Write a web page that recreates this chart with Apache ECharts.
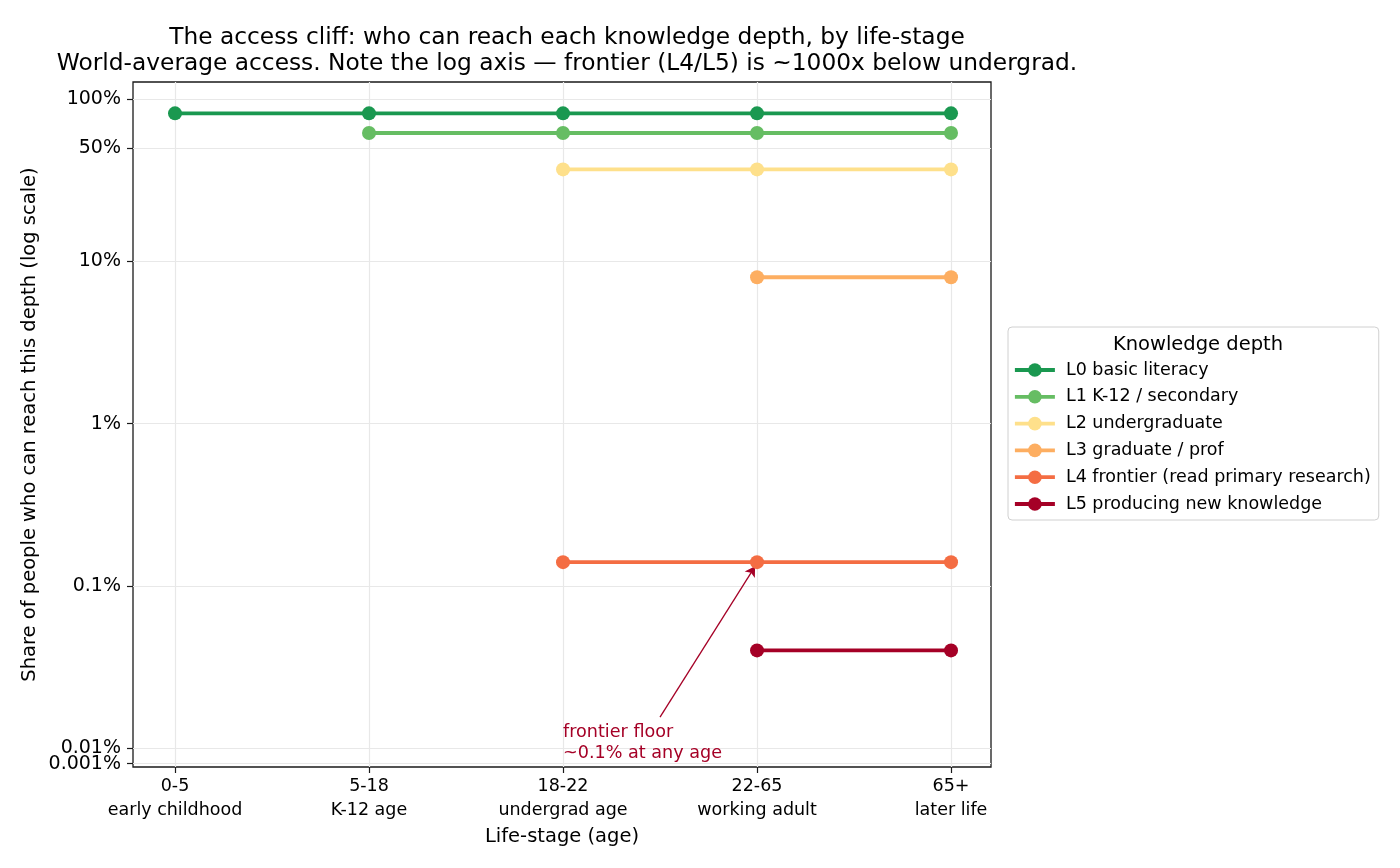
<!DOCTYPE html>
<html>
	<head>
		<meta charset="utf-8">
		<title></title>
		<style>
			body{ margin:0; background:#fff; }
			#main{
				width: 1400px;
				height: 868px;
			}
		</style>
	</head>
	<body>
		<div id="main"></div>
		<script src="https://cdn.jsdelivr.net/npm/echarts@6/dist/echarts.min.js"></script>
		<script>
			// life-stages on the x axis
			var stages = ['0-5', '5-18', '18-22', '22-65', '65+'];
			var stageNames = ['early childhood', 'K-12 age', 'undergrad age', 'working adult', 'later life'];

			// share (%) of people who can reach each depth, per stage (null = not reached yet)
			var depths = ['L0 basic literacy', 'L1 K-12 / secondary', 'L2 undergraduate', 'L3 graduate / prof',
				'L4 frontier (read primary research)', 'L5 producing new knowledge'];
			var L0 = [82, 82, 82, 82, 82];
			var L1 = [null, 62, 62, 62, 62];
			var L2 = [null, null, 37, 37, 37];
			var L3 = [null, null, null, 8, 8];
			var L4 = [null, null, 0.14, 0.14, 0.14];
			var L5 = [null, null, null, 0.04, 0.04];
			var colors = ['#1a9850', '#66bd63', '#fee08b', '#fdae61', '#f46d43', '#a50026'];

			// y ticks (%); the lowest one sits so close it gets its own axis layer
			var yTicks = [100, 50, 10, 1, 0.1, 0.01];
			var yTickLabels = ['100%', '50%', '10%', '1%', '0.1%', '0.01%'];
			var yLowTick = 0.001, yLowLabel = '0.001%';

			// annotation
			var noteText = 'frontier floor\n~0.1% at any age';
			var noteAt = [2, 0.0145];
			var arrowFrom = [2.5, 0.0155];
			var arrowTo = [2.99, 0.132];

			// symlog-like transform: linear under 0.01 %, log above
			var linThresh = 0.01, linDecades = 0.107;
			function t(v){
				if(v == null) return null;
				if(v >= linThresh) return linDecades + Math.log10(v / linThresh);
				return linDecades * v / linThresh;
			}

			var font = 'DejaVu Sans';
			var yMin = -0.010, yMax = t(100) + 0.107;
			var allSeries = [L0, L1, L2, L3, L4, L5];

			var series = allSeries.map(function(arr, i){
				return {
					name: depths[i],
					type: 'line',
					data: arr.map(function(v, j){ return v == null ? [j, null] : [j, t(v)]; }),
					symbol: 'circle',
					symbolSize: 14,
					showSymbol: true,
					connectNulls: false,
					itemStyle: {color: colors[i]},
					lineStyle: {color: colors[i], width: 3.8},
					emphasis: {disabled: true},
					z: 3 + i
				};
			});
			// arrow of the annotation
			series[4].markLine = {
				silent: true,
				animation: false,
				label: {show: false},
				lineStyle: {color: '#a50026', width: 1.3, type: 'solid'},
				symbolSize: [9, 10],
				data: [[
					{coord: [arrowFrom[0], t(arrowFrom[1])], symbol: 'none'},
					{coord: [arrowTo[0], t(arrowTo[1])], symbol: 'arrow'}
				]]
			};

			var yLabelStyle = {margin: 12, padding: [4, 0, 0, 0], fontFamily: font, fontSize: 19, color: '#000', showMinLabel: true, showMaxLabel: true};
			var tickStyle = {show: true, inside: false, length: 6, lineStyle: {color: '#1a1a1a', width: 1.2}};
			var gridLine = {show: true, lineStyle: {color: '#e8e8e8', width: 1.2}};

			var mychart = echarts.init(document.getElementById('main'));
			var option = {
				animation: false,
				textStyle: {fontFamily: font},
				title: [
					{
						text: 'The access cliff: who can reach each knowledge depth, by life-stage\nWorld-average access. Note the log axis \u2014 frontier (L4/L5) is ~1000x below undergrad.',
						left: 562,
						textAlign: 'center',
						top: 20,
						textStyle: {fontFamily: font, fontSize: 23.3, fontWeight: 'normal', color: '#000', lineHeight: 26}
					},
					{
						text: 'Knowledge depth',
						left: 1193,
						textAlign: 'center',
						top: 330,
						textStyle: {fontFamily: font, fontSize: 19.5, fontWeight: 'normal', color: '#000'}
					}
				],
				legend: {
					orient: 'vertical',
					left: 1008,
					top: 327,
					padding: [34, 8, 7, 5],
					itemWidth: 40,
					itemHeight: 17,
					itemGap: 8.8,
					borderColor: '#d0d0d0',
					borderWidth: 1,
					borderRadius: 4,
					lineStyle: {width: 3.8},
					textStyle: {fontFamily: font, fontSize: 17.5, color: '#000', lineHeight: 17, padding: [0, 0, 0, 6]},
					data: depths
				},
				grid: {
					left: 133, right: 409, top: 82, bottom: 101,
					show: true, borderColor: '#1a1a1a', borderWidth: 1.3, backgroundColor: 'transparent'
				},
				xAxis: {
					type: 'value',
					min: -0.2165,
					max: 4.206,
					name: 'Life-stage (age)',
					nameLocation: 'middle',
					nameGap: 57,
					nameTextStyle: {fontFamily: font, fontSize: 19.5, color: '#000'},
					axisLine: {show: false, onZero: false},
					axisTick: Object.assign({customValues: [0, 1, 2, 3, 4]}, tickStyle),
					axisLabel: {
						customValues: [0, 1, 2, 3, 4],
						showMinLabel: true,
						showMaxLabel: true,
						margin: 7,
						fontFamily: font, fontSize: 17.5, color: '#000', lineHeight: 24,
						formatter: function(v){
							var i = Math.round(v);
							return stages[i] + '\n' + stageNames[i];
						}
					},
					splitLine: gridLine
				},
				yAxis: [
					{
						type: 'value',
						position: 'left',
						min: yMin,
						max: yMax,
						name: 'Share of people who can reach this depth (log scale)',
						nameLocation: 'middle',
						nameGap: 93,
						nameTextStyle: {fontFamily: font, fontSize: 19.5, color: '#000'},
						axisLine: {show: false, onZero: false},
						axisTick: Object.assign({customValues: yTicks.map(t)}, tickStyle),
						axisLabel: Object.assign({
							customValues: yTicks.map(t),
							formatter: function(v){
								var best = 0;
								for(var k = 0; k < yTicks.length; k++){
									if(Math.abs(t(yTicks[k]) - v) < Math.abs(t(yTicks[best]) - v)) best = k;
								}
								return yTickLabels[best];
							}
						}, yLabelStyle),
						splitLine: gridLine
					},
					{
						type: 'value',
						position: 'left',
						min: yMin,
						max: yMax,
						axisLine: {show: false, onZero: false},
						axisTick: Object.assign({customValues: [t(yLowTick)]}, tickStyle),
						axisLabel: Object.assign({
							customValues: [t(yLowTick)],
							formatter: function(){ return yLowLabel; }
						}, yLabelStyle),
						splitLine: gridLine
					}
				],
				series: series
			};
			mychart.setOption(option);

			// annotation text, placed through the chart's own scales
			var p = mychart.convertToPixel({gridIndex: 0}, [noteAt[0], t(noteAt[1])]);
			mychart.setOption({
				graphic: [{
					type: 'text',
					x: p[0],
					y: p[1],
					style: {
						text: noteText,
						fill: '#a50026',
						font: '17.6px "DejaVu Sans"',
						lineHeight: 21,
						textAlign: 'left',
						textVerticalAlign: 'top'
					},
					z: 20
				}]
			});
		</script>
	</body>
</html>
